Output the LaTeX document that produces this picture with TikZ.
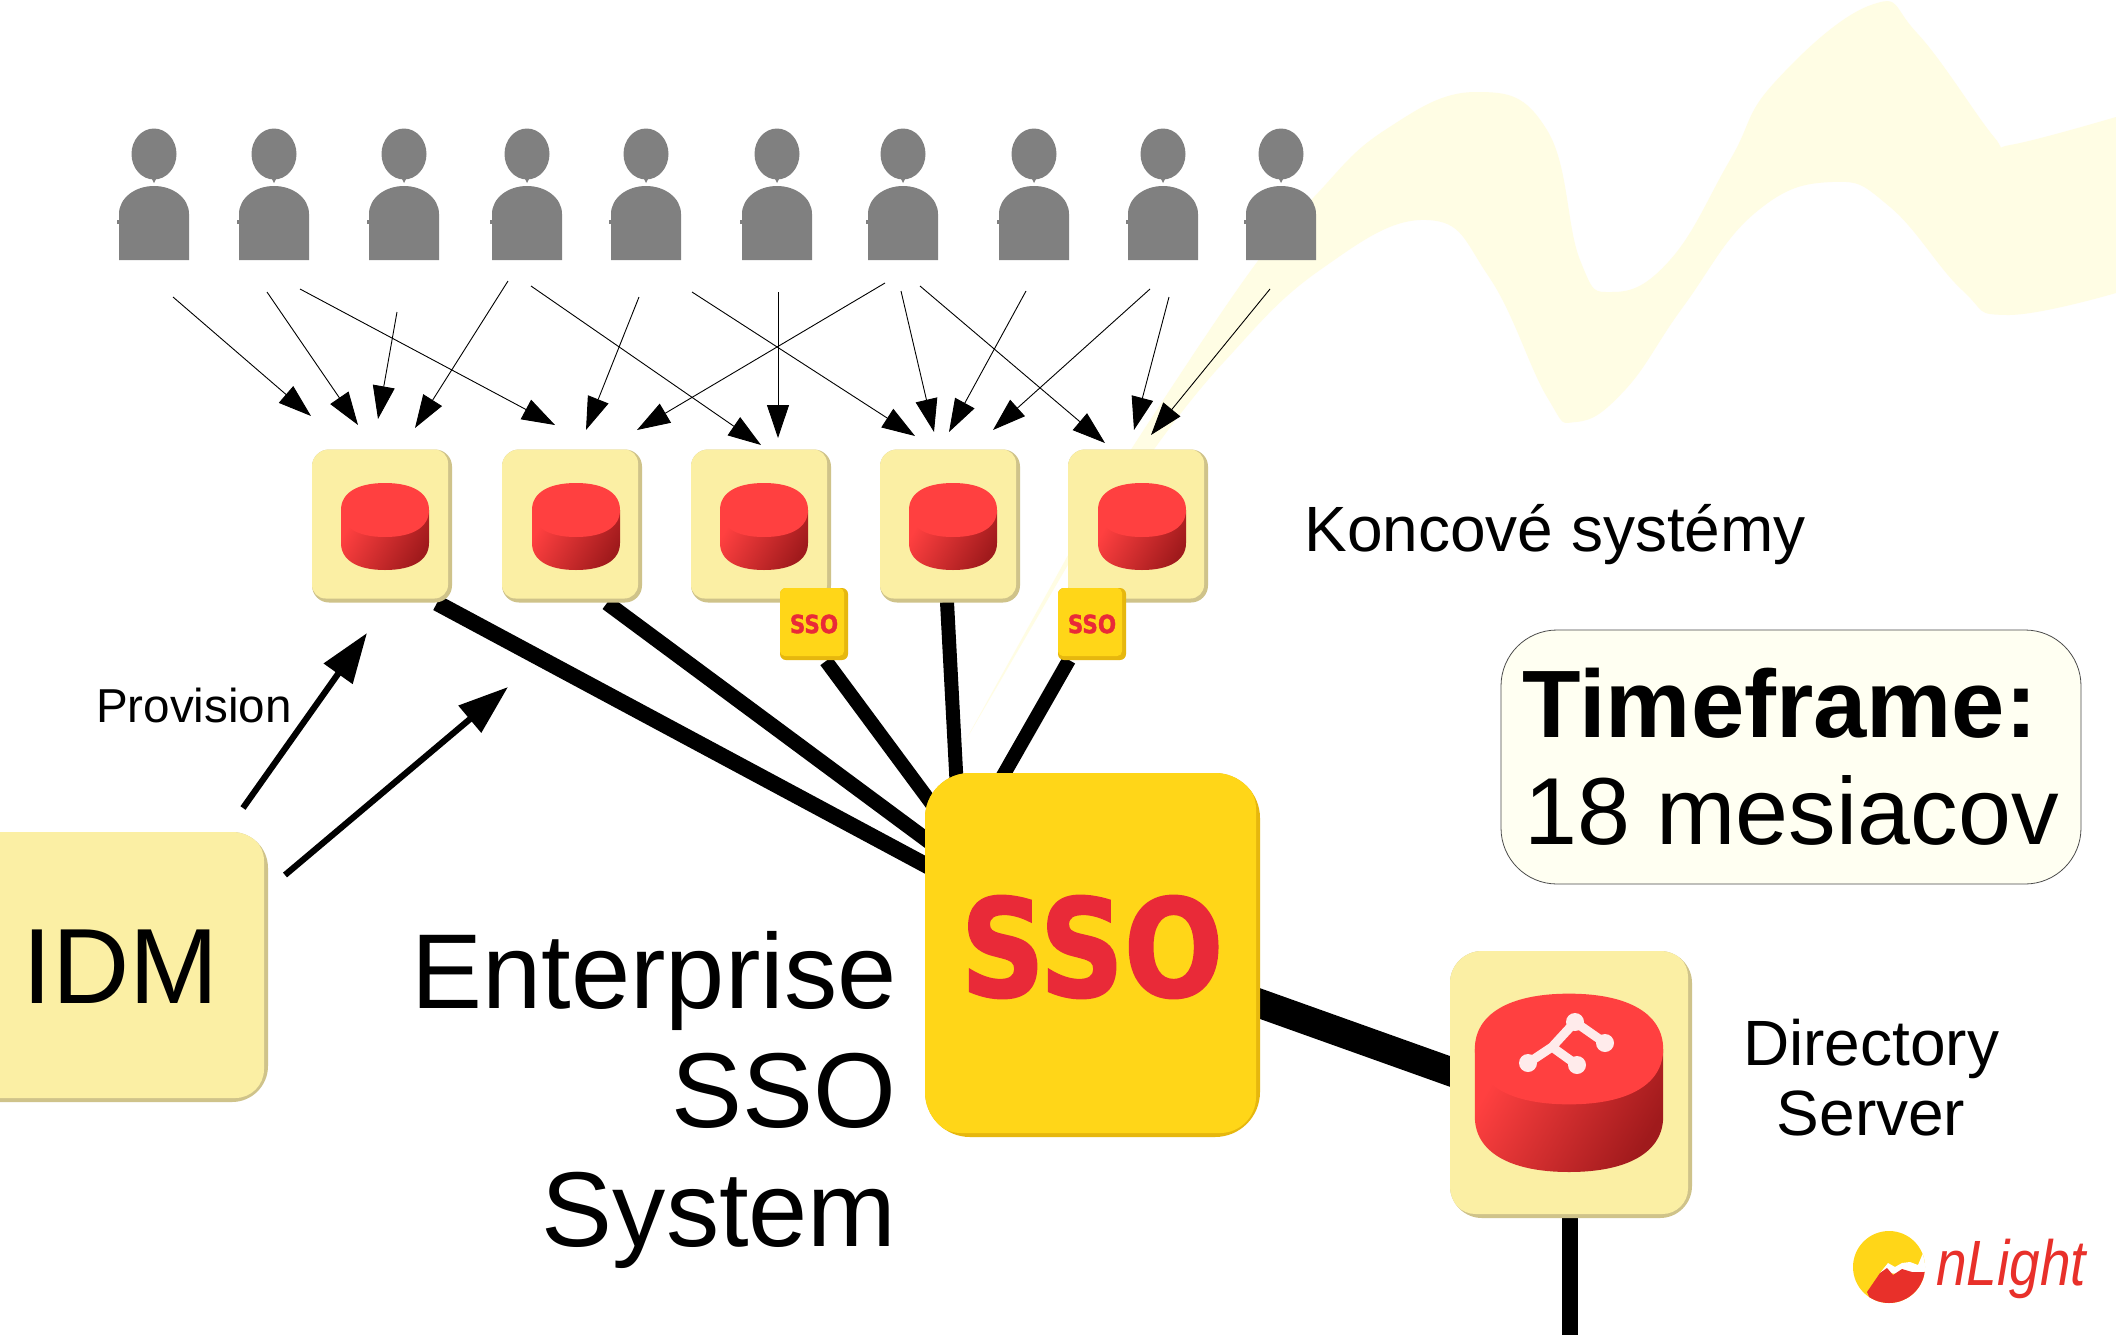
\documentclass[tikz,border=0pt]{standalone}
\usepackage{fontspec}
\setmainfont{Liberation Sans}
\newfontfamily\ssofont[FakeStretch=0.86,FakeBold=1.5]{DejaVu Sans Bold}
\usetikzlibrary{arrows.meta,calc}
\pgfdeclarelayer{bg}
\pgfsetlayers{bg,main}
\definecolor{wavec}{HTML}{FFFDE4}
\definecolor{persc}{HTML}{808080}
\definecolor{tilec}{HTML}{FBEFA4}
\definecolor{tiled}{HTML}{CFC38A}
\definecolor{ssoc}{HTML}{FFD618}
\definecolor{ssod}{HTML}{E6B70E}
\definecolor{redt}{HTML}{E92A38}
\definecolor{framec}{HTML}{FFFFF2}
\definecolor{cyltop}{HTML}{FF4040}
\definecolor{cylM}{HTML}{DC3032}
\definecolor{cylR}{HTML}{A01A1C}
\definecolor{logor}{HTML}{E8302A}
\tikzset{
  tile/.style n args={5}{rectangle,inner sep=0pt,minimum width=#1*0.5pt,minimum height=#2*0.5pt,
    rounded corners=#3*0.5pt,fill=#4,
    path picture={\fill[#5,rounded corners=#3*0.4pt]
      (path picture bounding box.north west) rectangle
      ([shift={(-2pt,2pt)}]path picture bounding box.south east);}},
  sysbox/.style={tile={140}{153}{17}{tiled}{tilec}},
  ssotag/.style={tile={68}{72}{6}{ssod}{ssoc},font=\ssofont\fontsize{12.5}{12.5}\selectfont,text=redt},
  thin arrow/.style={draw=black,line width=0.45pt,-{Triangle[length=16.5pt,width=11pt]}},
  prov arrow/.style={draw=black,line width=3.1pt,-{Triangle[length=25pt,width=17pt]}},
  thick link/.style={draw=black,line width=#1*0.5pt},
  lbl/.style={inner sep=0pt,text=black},
}
\newcommand{\cylshape}[5]{%
  \begin{scope}[shift={(#1,#2)},xscale=#3,yscale=#4]
    \shade[left color=cyltop,middle color=cylM,right color=cylR,shading angle=60]
      (-44,0) -- (-44,33) .. controls (-44,50) and (-28,60) .. (0,60)
      .. controls (28,60) and (44,50) .. (44,33) -- (44,0) -- cycle;
    \fill[cyltop] (-44,0) .. controls (-44,-17) and (-28,-27) .. (0,-27)
      .. controls (28,-27) and (44,-17) .. (44,0)
      .. controls (44,17) and (28,27) .. (0,27)
      .. controls (-28,27) and (-44,17) .. (-44,0) -- cycle;
    \coordinate (#5) at (0,0);
  \end{scope}}
\newcommand{\personshape}[2]{%
  \coordinate (#2) at (#1,154);
  \fill[persc] (#1,154) ellipse [x radius=22.5,y radius=25.5];
  \fill[persc] (#1-2.5,178) -- (#1+2.5,178) -- (#1,183) -- cycle;
  \fill[persc] (#1-37,220) rectangle (#1-34,224);
  \fill[persc] (#1-35,260) -- (#1-35,214) .. controls (#1-35,198) and (#1-19,186) .. (#1,186)
    .. controls (#1+19,186) and (#1+35,198) .. (#1+35,214) -- (#1+35,260) -- cycle;}
\begin{document}
\begin{tikzpicture}[x=0.5pt,y=-0.5pt]
\useasboundingbox (0,0) rectangle (2116,1334);
% ---- nodes
\node[sysbox] (b1) at (382,526) {};
\node[sysbox] (b2) at (572,526) {};
\node[sysbox] (b3) at (761,526) {};
\node[sysbox] (b4) at (950,526) {};
\node[sysbox] (b5) at (1138,526) {};
\node[tile={335}{364}{45}{ssod}{ssoc}] (sso) at (1092.5,955) {};
\node[tile={242}{267}{32}{tiled}{tilec}] (dir) at (1571,1084.5) {};
\node[tile={338}{270}{36}{tiled}{tilec}] (idm) at (99,967) {};
% ---- background: wave + thick links
\begin{pgfonlayer}{bg}
\fill[white] (0,0) rectangle (2116,1334);
\fill[wavec] (963,745) -- (1067,557) --
  plot[smooth,tension=0.75] coordinates {(1132,448) (1249,273) (1314,197) (1385,130) (1476,92)
     (1547,130) (1580,260) (1612,292) (1670,260) (1730,160) (1774,83) (1871,5) (1917,33) (1994,137)
     (2010,145) (2116,117)}
  -- (2116,293) --
  plot[smooth,tension=0.75] coordinates {(2116,293) (2007,315) (1962,290) (1890,207) (1832,182) (1755,213)
     (1683,307) (1625,390) (1576,422) (1547,397) (1489,277) (1427,220) (1320,270) (1223,363) (1155,448)}
  -- (1069,563) -- cycle;
\coordinate (l1) at (437,603);  \coordinate (s1) at (935,870);
\coordinate (l2) at (607,603);  \coordinate (s2) at (935,846);
\coordinate (l3) at (826,661);  \coordinate (s3) at (940,815);
\coordinate (l4) at (947,602);  \coordinate (s4) at (957,790);
\coordinate (l5) at (1069,660); \coordinate (s5) at (996,788);
\coordinate (s6) at (1250,1000); \coordinate (d6) at (1460,1075);
\coordinate (d7) at (1570,1210); \coordinate (e7) at (1570,1340);
\draw[thick link=16] (l1) -- (s1);
\draw[thick link=15] (l2) -- (s2);
\draw[thick link=14] (l3) -- (s3);
\draw[thick link=14] (l4) -- (s4);
\draw[thick link=14] (l5) -- (s5);
\draw[thick link=29] (s6) -- (d6);
\draw[thick link=16] (d7) -- (e7);
\end{pgfonlayer}
% ---- people
\personshape{154}{p1}\personshape{274}{p2}\personshape{404}{p3}\personshape{527}{p4}\personshape{646}{p5}
\personshape{777}{p6}\personshape{903}{p7}\personshape{1034}{p8}\personshape{1163}{p9}\personshape{1281}{p10}
% ---- cylinders
\cylshape{385}{510}{1}{1}{c1}
\cylshape{576}{510}{1}{1}{c2}
\cylshape{764}{510}{1}{1}{c3}
\cylshape{953}{510}{1}{1}{c4}
\cylshape{1142}{510}{1}{1}{c5}
\cylshape{1569}{1049}{2.14}{2.05}{c6}
\draw[white!92!red,line width=4.5pt,line join=round,line cap=round]
  (1528,1063) -- (1552,1047) -- (1575,1022) -- (1605,1043)
  (1552,1047) -- (1577,1065);
\foreach \gx/\gy in {1528/1063,1575/1022,1605/1043,1577/1065}
  \fill[white!92!red] (\gx,\gy) circle [radius=9];
% ---- tags
\node[ssotag] (t1) at (814,624) {SSO};
\node[ssotag] (t2) at (1092,624) {SSO};
\node[inner sep=0pt,font=\ssofont\fontsize{68}{68}\selectfont,text=redt] (ssot) at (1092,947) {SSO};
% ---- user arrows
\foreach \n/\ax/\ay/\bx/\by in {
 1/173/297/311/416, 2/267/292/358/425, 3/397/312/378/419, 4/508/281/415/428,
 5/300/289/555/425, 6/639/297/586/430, 7/531/286/761/445, 8/778/292/778/438,
 9/692/292/915/436, 10/885/283/637/430, 11/901/291/934/432, 12/1026/291/949/432,
 13/920/286/1105/443, 14/1150/289/993/430, 15/1169/297/1134/430, 16/1270/289/1151/435}{
  \coordinate (from\n) at (\ax,\ay);
  \coordinate (to\n) at (\bx,\by);
  \draw[thin arrow] (from\n) -- (to\n);
}
% ---- provision arrows
\coordinate (pa) at (243,808); \coordinate (pb) at (367,633);
\coordinate (pc) at (285,875); \coordinate (pd) at (508,687);
\draw[prov arrow] (pa) -- (pb);
\draw[prov arrow] (pc) -- (pd);
% ---- texts
\node[lbl,anchor=base,font=\fontsize{53.5}{53.5}\selectfont] (idmt) at (121,1003) {IDM};
\node[lbl,anchor=base,font=\fontsize{23.8}{23.8}\selectfont] (prov) at (194,722) {Provision};
\node[lbl,anchor=base east,font=\fontsize{53.2}{53.2}\selectfont] (ent1) at (897,1008) {Enterprise};
\node[lbl,anchor=base east,font=\fontsize{53.2}{53.2}\selectfont] (ent2) at (897,1127) {SSO};
\node[lbl,anchor=base east,font=\fontsize{53.2}{53.2}\selectfont] (ent3) at (897,1246) {System};
\node[lbl,anchor=base west,font=\fontsize{32}{32}\selectfont] (kon) at (1304,551) {Koncové systémy};
\node[lbl,anchor=base,font=\fontsize{32}{32}\selectfont] (ds1) at (1871,1065) {Directory};
\node[lbl,anchor=base,font=\fontsize{32}{32}\selectfont] (ds2) at (1871,1135) {Server};
% ---- timeframe
\node[rectangle,draw=black!70,line width=0.4pt,fill=framec,rounded corners=28pt,
  minimum width=290pt,minimum height=127pt,inner sep=0pt] (tf) at (1791,757) {};
\node[lbl,anchor=base west,font=\bfseries\fontsize{47.9}{47.9}\selectfont] (tf1) at (1522,737) {Timeframe:};
\node[lbl,anchor=base west,font=\fontsize{47.6}{47.6}\selectfont] (tf2) at (1524,844) {18 mesiacov};
% ---- logo
\coordinate (logoc) at (1889,1267);
\begin{scope}
  \clip (logoc) circle [radius=36];
  \fill[ssoc] (1850,1225) rectangle (1930,1310);
  \fill[white] (1880,1273) -- (1888,1263) -- (1895,1267) -- (1902,1263) -- (1910,1262) -- (1918,1265) -- (1923,1253) -- (1935,1250) -- (1935,1275) -- cycle;
  \fill[logor] (1867,1292) -- (1880,1273) -- (1887,1268) -- (1893,1275) -- (1902,1269) -- (1912,1272) -- (1935,1272) -- (1935,1310) -- (1875,1310) -- cycle;
\end{scope}
\node[lbl,anchor=base west,text=logor,font=\itshape\fontsize{32}{32}\selectfont,xscale=0.86,transform shape] (nl) at (1936,1285) {nLight};
\end{tikzpicture}
\end{document}
